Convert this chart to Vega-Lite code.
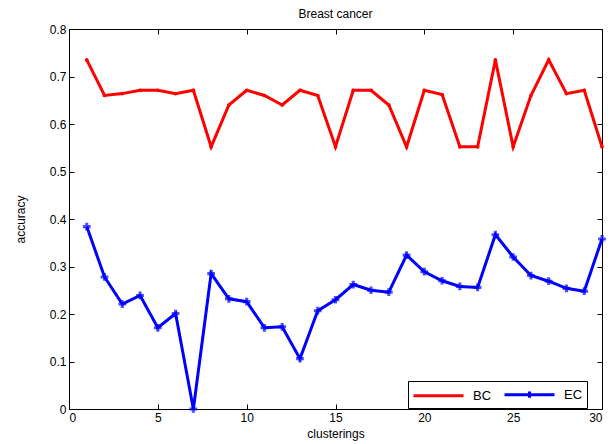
{
  "$schema": "https://vega.github.io/schema/vega-lite/v6.json",
  "autosize": "none",
  "width": 533,
  "height": 380,
  "padding": {"left": 69, "top": 29, "right": 9, "bottom": 35},
  "background": "white",
  "title": {"text": "Breast cancer", "fontSize": 12, "fontWeight": "normal", "font": "Liberation Sans", "color": "black", "offset": 2, "anchor": "middle", "frame": "group"},
  "config": {
    "view": {"stroke": "black", "strokeWidth": 1},
    "axis": {"grid": false, "domainColor": "black", "tickColor": "black", "labelColor": "black", "titleColor": "black", "labelFont": "Liberation Sans", "titleFont": "Liberation Sans", "labelFontSize": 12, "titleFontSize": 12, "titleFontWeight": "normal", "tickSize": -5, "labelPadding": 8}
  },
  "datasets": {
    "acc": [
      {"c": 1, "s": "BC", "v": 0.735}, {"c": 2, "s": "BC", "v": 0.66}, {"c": 3, "s": "BC", "v": 0.664}, {"c": 4, "s": "BC", "v": 0.671}, {"c": 5, "s": "BC", "v": 0.671},
      {"c": 6, "s": "BC", "v": 0.664}, {"c": 7, "s": "BC", "v": 0.671}, {"c": 8, "s": "BC", "v": 0.552}, {"c": 9, "s": "BC", "v": 0.64}, {"c": 10, "s": "BC", "v": 0.671},
      {"c": 11, "s": "BC", "v": 0.66}, {"c": 12, "s": "BC", "v": 0.64}, {"c": 13, "s": "BC", "v": 0.671}, {"c": 14, "s": "BC", "v": 0.66}, {"c": 15, "s": "BC", "v": 0.552},
      {"c": 16, "s": "BC", "v": 0.671}, {"c": 17, "s": "BC", "v": 0.671}, {"c": 18, "s": "BC", "v": 0.64}, {"c": 19, "s": "BC", "v": 0.552}, {"c": 20, "s": "BC", "v": 0.671},
      {"c": 21, "s": "BC", "v": 0.662}, {"c": 22, "s": "BC", "v": 0.552}, {"c": 23, "s": "BC", "v": 0.552}, {"c": 24, "s": "BC", "v": 0.735}, {"c": 25, "s": "BC", "v": 0.552},
      {"c": 26, "s": "BC", "v": 0.66}, {"c": 27, "s": "BC", "v": 0.735}, {"c": 28, "s": "BC", "v": 0.664}, {"c": 29, "s": "BC", "v": 0.671}, {"c": 30, "s": "BC", "v": 0.552},
      {"c": 1, "s": "EC", "v": 0.384}, {"c": 2, "s": "EC", "v": 0.278}, {"c": 3, "s": "EC", "v": 0.221}, {"c": 4, "s": "EC", "v": 0.239}, {"c": 5, "s": "EC", "v": 0.171},
      {"c": 6, "s": "EC", "v": 0.201}, {"c": 7, "s": "EC", "v": 0.0}, {"c": 8, "s": "EC", "v": 0.285}, {"c": 9, "s": "EC", "v": 0.232}, {"c": 10, "s": "EC", "v": 0.226},
      {"c": 11, "s": "EC", "v": 0.171}, {"c": 12, "s": "EC", "v": 0.173}, {"c": 13, "s": "EC", "v": 0.106}, {"c": 14, "s": "EC", "v": 0.207}, {"c": 15, "s": "EC", "v": 0.23},
      {"c": 16, "s": "EC", "v": 0.262}, {"c": 17, "s": "EC", "v": 0.25}, {"c": 18, "s": "EC", "v": 0.246}, {"c": 19, "s": "EC", "v": 0.324}, {"c": 20, "s": "EC", "v": 0.289},
      {"c": 21, "s": "EC", "v": 0.27}, {"c": 22, "s": "EC", "v": 0.258}, {"c": 23, "s": "EC", "v": 0.256}, {"c": 24, "s": "EC", "v": 0.367}, {"c": 25, "s": "EC", "v": 0.32},
      {"c": 26, "s": "EC", "v": 0.281}, {"c": 27, "s": "EC", "v": 0.269}, {"c": 28, "s": "EC", "v": 0.254}, {"c": 29, "s": "EC", "v": 0.248}, {"c": 30, "s": "EC", "v": 0.358}
    ]
  },
  "data": {"name": "acc"},
  "layer": [
    {
      "mark": {"type": "line", "strokeWidth": 3, "clip": false},
      "encoding": {
        "x": {"field": "c", "type": "quantitative", "scale": {"domain": [0, 30], "nice": false}, "axis": {"title": "clusterings", "values": [0, 5, 10, 15, 20, 25, 30], "titlePadding": 5}},
        "y": {"field": "v", "type": "quantitative", "scale": {"domain": [0, 0.8], "nice": false}, "axis": {"title": "accuracy", "values": [0, 0.1, 0.2, 0.3, 0.4, 0.5, 0.6, 0.7, 0.8], "format": ".1~f", "titlePadding": 22}},
        "color": {"field": "s", "type": "nominal", "scale": {"domain": ["BC", "EC"], "range": ["#ff0000", "#0000ff"]},
          "legend": {"title": null, "orient": "none", "legendX": 339, "legendY": 352, "direction": "horizontal", "strokeColor": "black", "fillColor": "white", "padding": 4, "labelFont": "Liberation Sans", "labelFontSize": 13, "labelColor": "black", "symbolSize": 256, "symbolStrokeWidth": 3, "columnPadding": 6, "labelOffset": 42,
            "encode": {"symbols": {"update": {"shape": {"signal": "datum.value === 'EC' ? 'M-1,0H5.25M1.75,0H2.5M2.125,-0.4V0.4' : 'M-1,0H5.25M2,0H2.25'"}}}}}}
      }
    },
    {
      "mark": {"type": "point", "opacity": 0},
      "encoding": {
        "x": {"field": "c", "type": "quantitative", "axis": {"orient": "top", "labels": false, "title": null, "ticks": true, "tickSize": -5, "values": [0, 5, 10, 15, 20, 25, 30], "domain": false}},
        "y": {"field": "v", "type": "quantitative", "axis": {"orient": "right", "labels": false, "title": null, "ticks": true, "tickSize": -5, "values": [0, 0.1, 0.2, 0.3, 0.4, 0.5, 0.6, 0.7, 0.8], "domain": false}}
      }
    },
    {
      "transform": [{"filter": "datum.s === 'EC'"}],
      "mark": {"type": "point", "shape": "cross", "filled": true, "size": 60, "color": "#0000ff", "clip": false},
      "encoding": {"x": {"field": "c", "type": "quantitative", "axis": null}, "y": {"field": "v", "type": "quantitative", "axis": null}}
    },
    {
      "transform": [{"filter": "datum.s === 'BC'"}],
      "mark": {"type": "point", "shape": "circle", "filled": true, "size": 14, "color": "#ff0000", "opacity": 1},
      "encoding": {"x": {"field": "c", "type": "quantitative", "axis": null}, "y": {"field": "v", "type": "quantitative", "axis": null}}
    }
  ],
  "resolve": {"axis": {"x": "independent", "y": "independent"}}
}
